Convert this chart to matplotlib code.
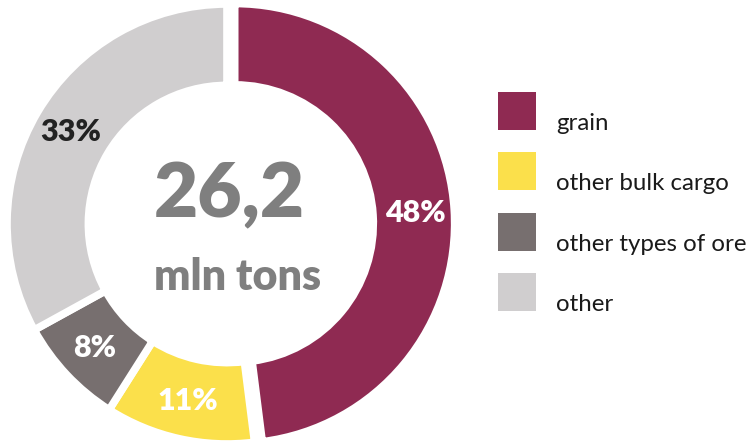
import matplotlib.pyplot as plt
from matplotlib.patches import Rectangle
import numpy as np

categories = ['grain', 'other bulk cargo', 'other types of ore', 'other']
shares = [48, 11, 8, 33]
colors = ['#8f2a52', '#fbe04b', '#776f6f', '#d0cecf']
label_colors = ['white', 'white', 'white', '#222222']
total_text = '26,2'
unit_text = 'mln tons'

plt.rcParams['font.family'] = ['Lato', 'DejaVu Sans']

fig = plt.figure(figsize=(7.52, 4.47), dpi=100)
W, H = 752, 447

# donut: centre (227, 224) px from top-left, outer radius 220 px
cx, cy, r = 227, 224, 220
lim = 1.1
half = r * lim
ax = fig.add_axes([(cx - half) / W, (H - cy - half) / H, 2 * half / W, 2 * half / H])

wedges, _ = ax.pie(shares, colors=colors, startangle=90, counterclock=False,
                   radius=1, explode=[0.035, 0, 0, 0],
                   wedgeprops=dict(width=0.37, edgecolor='white', linewidth=5.5))
ax.set_xlim(-lim, lim)
ax.set_ylim(-lim, lim)
ax.set_aspect('equal')
ax.axis('off')

ang = 90.0
for w, v, lc in zip(wedges, shares, label_colors):
    mid = np.deg2rad(ang - v * 3.6 / 2)
    ang -= v * 3.6
    rr = 0.825
    ax.text(rr * np.cos(mid) + (0.035 if v == 48 else 0), rr * np.sin(mid), f'{v}%',
            ha='center', va='center', color=lc, fontsize=22, fontweight='heavy')

ax.text(0.01, 0.13, total_text, ha='center', va='center', color='#7f7f7f',
        fontsize=55, fontweight='heavy')
ax.text(0.05, -0.24, unit_text, ha='center', va='center', color='#7f7f7f',
        fontsize=31, fontweight='heavy')

# legend
for i, (cat, col) in enumerate(zip(categories, colors)):
    top = 92 + i * 60.3
    fig.add_artist(Rectangle((498 / W, (H - top - 38) / H), 38 / W, 38 / H,
                             transform=fig.transFigure, color=col, lw=0))
    fig.text(556 / W, (H - top - 38) / H, cat, ha='left', va='baseline',
             fontsize=17.3, color='#1a1a1a')

fig.savefig('out.png', dpi=100)
